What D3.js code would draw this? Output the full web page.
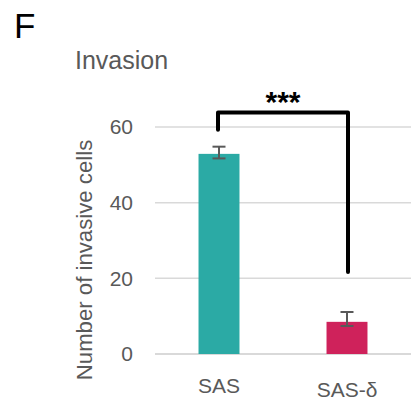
<!DOCTYPE html>
<html>
<head>
<meta charset="utf-8">
<script src="https://cdn.jsdelivr.net/npm/d3@7"></script>
<style>
  html, body { margin: 0; padding: 0; background: #fff; }
  svg { display: block; font-family: "Liberation Sans", Arial, sans-serif; }
</style>
</head>
<body>
<svg id="chart" width="411" height="400"></svg>
<script>
// Invasion assay: mean number of invasive cells per group
const categories = ["SAS", "SAS-δ"];
const values = [52.9, 8.5];
const errUpper = [54.8, 11.1];
const errLower = [51.7, 7.4];
const barColors = ["#2BAAA5", "#CF225B"];
const yTicks = [0, 20, 40, 60];

// Significance bracket (in data units)
const bracketTop = 63.8;
const bracketLeftEnd = 59.3;
const bracketRightEnd = 21.7;
const bracketLabel = "***";

const svg = d3.select("#chart");

const x = d3.scaleBand()
  .domain(categories)
  .range([155, 411])
  .paddingInner(0.68)
  .paddingOuter(0.34);

const y = d3.scaleLinear()
  .domain([0, 60])
  .range([354, 127]);

// Panel letter and title
svg.append("text")
  .attr("x", 14).attr("y", 38)
  .attr("font-size", 35)
  .attr("fill", "#000")
  .text("F");

svg.append("text")
  .attr("x", 75).attr("y", 69)
  .attr("font-size", 25)
  .attr("fill", "#595959")
  .text("Invasion");

// Gridlines
svg.append("g")
  .selectAll("line")
  .data(yTicks)
  .join("line")
  .attr("x1", 155).attr("x2", 411)
  .attr("y1", d => y(d)).attr("y2", d => y(d))
  .attr("stroke", "#d9d9d9")
  .attr("stroke-width", d => d === 0 ? 2 : 1.5);

// Y axis tick labels
const yAxis = d3.axisLeft(y).tickValues(yTicks).tickSize(0).tickPadding(0);
const yg = svg.append("g")
  .attr("transform", "translate(133,0)")
  .call(yAxis);
yg.select(".domain").remove();
yg.selectAll("text")
  .attr("font-size", 21)
  .attr("font-family", "Liberation Sans, Arial, sans-serif")
  .attr("fill", "#595959");

// Y axis title
svg.append("text")
  .attr("transform", "translate(92,260) rotate(-90)")
  .attr("text-anchor", "middle")
  .attr("font-size", 22.2)
  .attr("fill", "#595959")
  .text("Number of invasive cells");

// Bars
svg.append("g")
  .selectAll("rect")
  .data(categories)
  .join("rect")
  .attr("x", d => x(d))
  .attr("width", x.bandwidth())
  .attr("y", (d, i) => y(values[i]))
  .attr("height", (d, i) => y(0) - y(values[i]))
  .attr("fill", (d, i) => barColors[i]);

// Error bars
const eg = svg.append("g")
  .attr("stroke", "#595959")
  .attr("stroke-width", 2);
categories.forEach((c, i) => {
  const cx = x(c) + x.bandwidth() / 2;
  eg.append("line")
    .attr("x1", cx).attr("x2", cx)
    .attr("y1", y(errUpper[i])).attr("y2", y(errLower[i]));
  [errUpper[i], errLower[i]].forEach(v => {
    eg.append("line")
      .attr("x1", cx - 6.5).attr("x2", cx + 6.5)
      .attr("y1", y(v)).attr("y2", y(v));
  });
});

// X axis labels
const xLabelY = [393, 396.5];
svg.append("g")
  .selectAll("text")
  .data(categories)
  .join("text")
  .attr("x", d => x(d) + x.bandwidth() / 2)
  .attr("y", (d, i) => xLabelY[i])
  .attr("text-anchor", "middle")
  .attr("font-size", 21)
  .attr("fill", "#595959")
  .text(d => d);

// Significance bracket
const xl = x(categories[0]) + x.bandwidth() / 2 - 1;
const xr = x(categories[1]) + x.bandwidth() / 2 + 1;
svg.append("path")
  .attr("d", d3.line()([
    [xl, y(bracketLeftEnd)],
    [xl, y(bracketTop)],
    [xr, y(bracketTop)],
    [xr, y(bracketRightEnd)]
  ]))
  .attr("fill", "none")
  .attr("stroke", "#000")
  .attr("stroke-width", 4)
  .attr("stroke-linejoin", "round")
  .attr("stroke-linecap", "round");

svg.append("text")
  .attr("x", (xl + xr) / 2)
  .attr("y", y(bracketTop) - 0.5)
  .attr("text-anchor", "middle")
  .attr("font-size", 30)
  .attr("font-weight", "bold")
  .attr("fill", "#000")
  .text(bracketLabel);
</script>
</body>
</html>
